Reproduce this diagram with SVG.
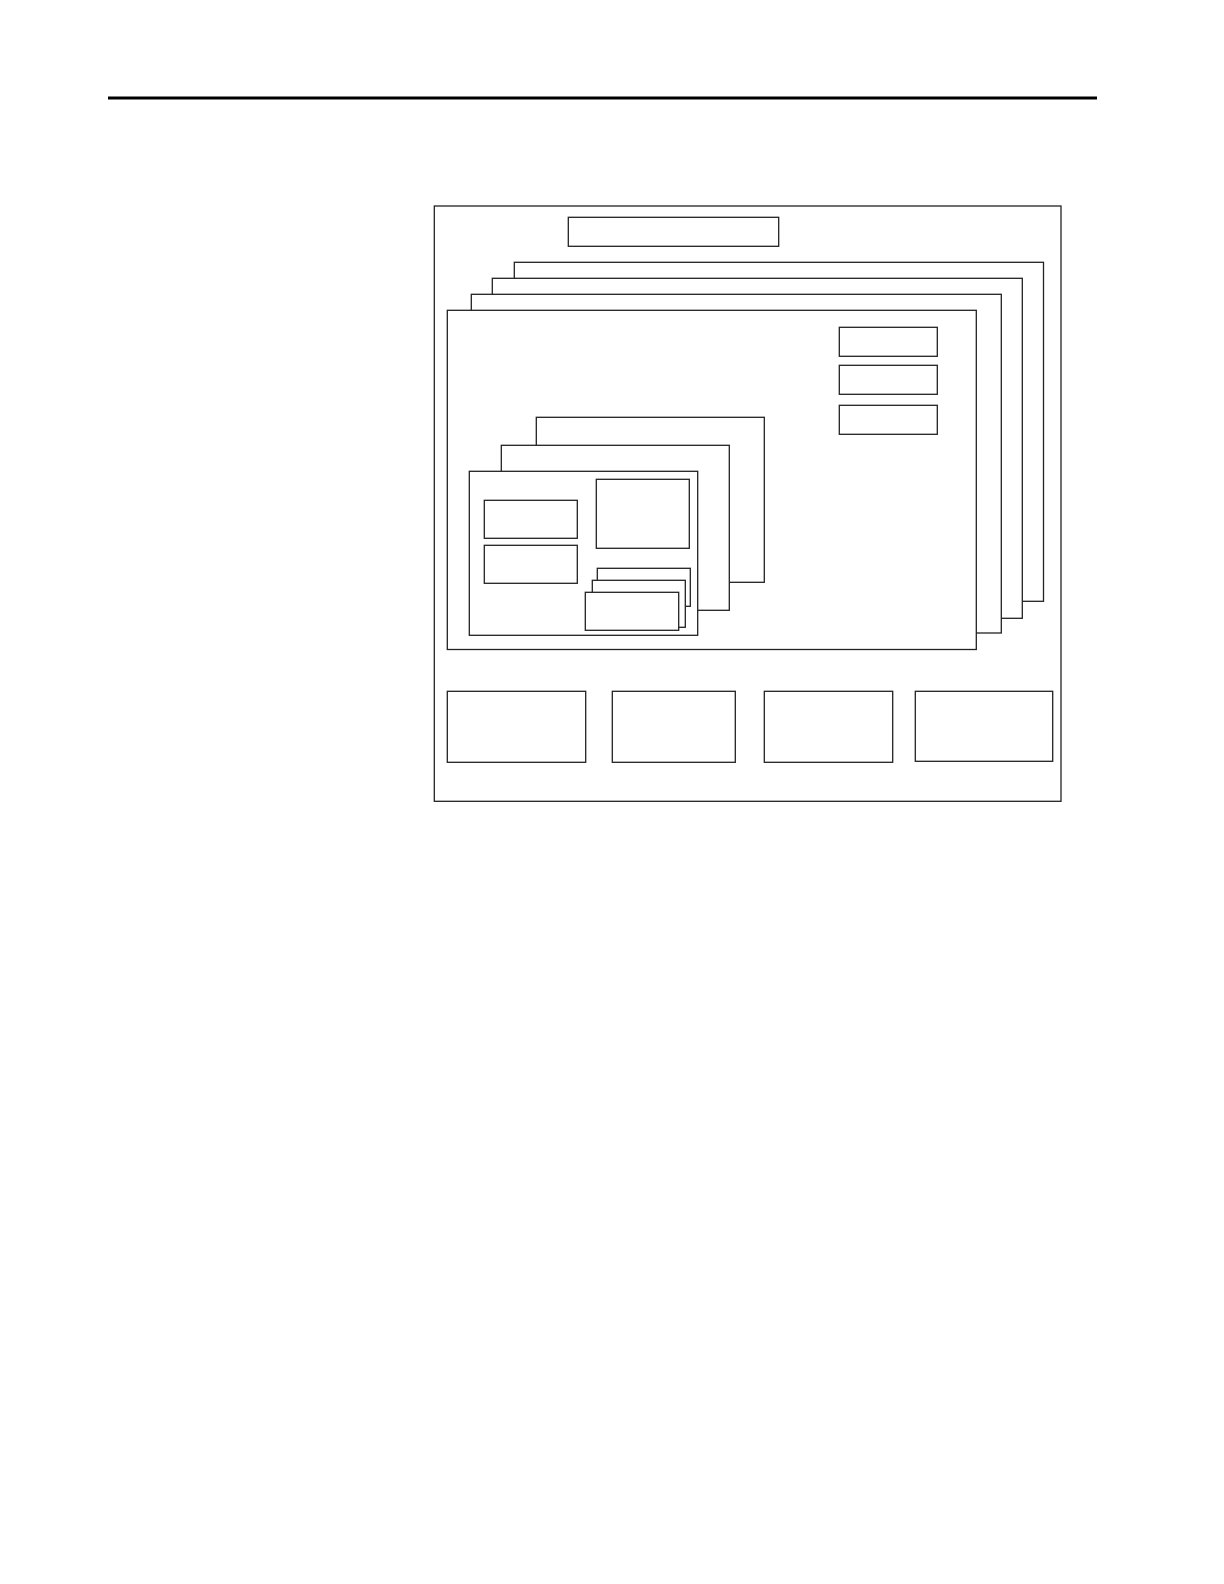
<svg xmlns="http://www.w3.org/2000/svg" width="1224" height="1584" viewBox="0 0 1224 1584">
<style>
.b{fill:#ffffff;stroke:#222222;stroke-width:1.3}
.rule{stroke:#000000;stroke-width:3}
</style>
<rect width="1224" height="1584" fill="#ffffff"/>
<line class="rule" x1="108" y1="98" x2="1097" y2="98"/>
<g id="outer-frame"><rect class="b" x="434.3" y="206" width="626.7" height="595.3"/></g>
<g id="title-box"><rect class="b" x="568.3" y="217.3" width="210.4" height="29"/></g>
<g id="layer-4"><rect class="b" x="514.3" y="262.3" width="529.2" height="339"/></g>
<g id="layer-3"><rect class="b" x="492.3" y="278.3" width="530" height="340"/></g>
<g id="layer-2"><rect class="b" x="471.3" y="294.3" width="530" height="338.7"/></g>
<g id="layer-1"><rect class="b" x="447.3" y="310.3" width="529" height="339.2"/></g>
<g id="side-box-1"><rect class="b" x="839.3" y="327.3" width="98" height="29"/></g>
<g id="side-box-2"><rect class="b" x="839.3" y="365.3" width="98" height="29"/></g>
<g id="side-box-3"><rect class="b" x="839.3" y="405.3" width="98" height="29"/></g>
<g id="inner-3"><rect class="b" x="536.3" y="417.3" width="228" height="165"/></g>
<g id="inner-2"><rect class="b" x="501.3" y="445.3" width="228" height="165"/></g>
<g id="inner-1"><rect class="b" x="469.3" y="471.3" width="228.4" height="164"/></g>
<g id="box-a"><rect class="b" x="484.3" y="500.3" width="93" height="38"/></g>
<g id="box-b"><rect class="b" x="484.3" y="545.3" width="93" height="38"/></g>
<g id="box-c"><rect class="b" x="596.3" y="479.3" width="93" height="69"/></g>
<g id="stack-3"><rect class="b" x="597.3" y="568.3" width="93" height="38"/></g>
<g id="stack-2"><rect class="b" x="592.3" y="580.3" width="93" height="47"/></g>
<g id="stack-1"><rect class="b" x="585.3" y="592.3" width="93.4" height="38"/></g>
<g id="bottom-1"><rect class="b" x="447.3" y="691.3" width="138.4" height="71"/></g>
<g id="bottom-2"><rect class="b" x="612.3" y="691.3" width="123" height="71"/></g>
<g id="bottom-3"><rect class="b" x="764.3" y="691.3" width="128.4" height="71"/></g>
<g id="bottom-4"><rect class="b" x="915.3" y="691.3" width="137.4" height="70"/></g>
<g id="connectors"></g>
</svg>
